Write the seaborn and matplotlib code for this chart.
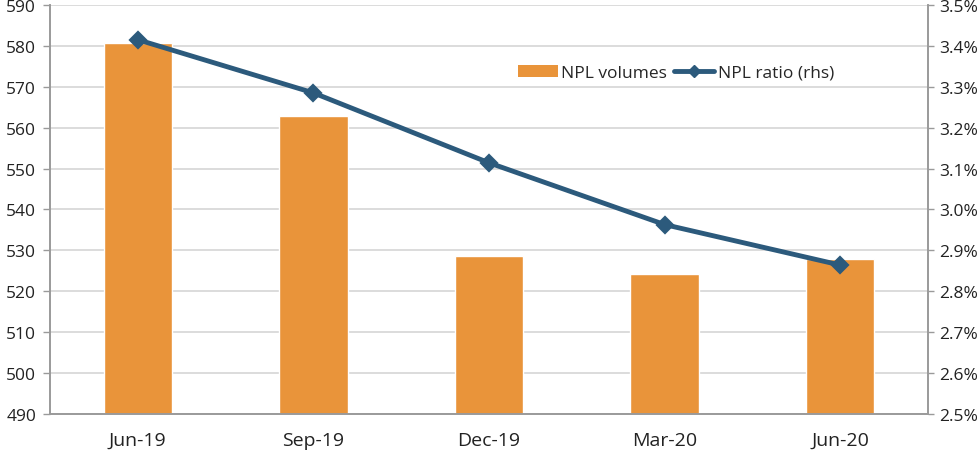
import matplotlib
matplotlib.use("Agg")
import matplotlib.pyplot as plt
import seaborn as sns
import pandas as pd
from matplotlib.lines import Line2D
from matplotlib.patches import Patch
from matplotlib.ticker import FuncFormatter, MultipleLocator

# Data
quarters = ["Jun-19", "Sep-19", "Dec-19", "Mar-20", "Jun-20"]
npl_volumes = [580.6, 562.9, 528.7, 524.3, 527.8]
npl_ratio = [3.415, 3.285, 3.114, 2.963, 2.864]  # percent, right axis

bar_color = "#E9943A"
line_color = "#2C5A7C"
grid_color = "#D6D6D6"
spine_color = "#9A9A9A"

df = pd.DataFrame({"quarter": quarters, "volume": npl_volumes, "ratio": npl_ratio})

sns.set_style("white")
plt.rcParams["font.family"] = ["Open Sans", "DejaVu Sans"]

fig = plt.figure(figsize=(9.8, 4.56), dpi=100)
ax = fig.add_axes([0.051, 0.09, 0.896, 0.897])

sns.barplot(data=df, x="quarter", y="volume", color=bar_color, width=0.39,
            saturation=1, ax=ax, zorder=2)
ax.set_ylim(490, 590)
ax.yaxis.set_major_locator(MultipleLocator(10))
ax.set_xlim(-0.5, 4.5)
ax.grid(axis="y", color=grid_color, linewidth=1.2, zorder=0)
ax.set_axisbelow(True)
ax.set_xlabel("")
ax.set_ylabel("")

ax2 = ax.twinx()
sns.pointplot(data=df, x="quarter", y="ratio", color=line_color, markers="D",
              markersize=7, linewidth=3.5, ax=ax2)
ax2.set_ylim(2.5, 3.5)
ax2.yaxis.set_major_locator(MultipleLocator(0.1))
ax2.yaxis.set_major_formatter(FuncFormatter(lambda v, p: f"{v:.1f}%"))
ax2.set_xlim(-0.5, 4.5)
ax2.set_ylabel("")

# category labels centred, ticks at slot boundaries
ax.set_xticks(range(len(quarters)))
ax.set_xticklabels(quarters)
ax.set_xticks([i + 0.5 for i in range(len(quarters) - 1)], minor=True)
ax.tick_params(axis="x", which="major", length=0, pad=12, labelsize=14, colors="#222222")
ax.tick_params(axis="x", which="minor", length=5, width=1, color=spine_color, direction="out")
ax.tick_params(axis="y", length=5, width=1, color=spine_color, labelsize=12.5, colors="#222222", pad=5)
ax2.tick_params(axis="y", length=4, width=1, color=spine_color, labelsize=12.5, colors="#222222", pad=4)

for a in (ax, ax2):
    a.spines["top"].set_visible(False)
    for s in ("left", "right", "bottom"):
        a.spines[s].set_color(spine_color)
        a.spines[s].set_linewidth(1.2)

handles = [
    Patch(facecolor=bar_color, edgecolor="none"),
    Line2D([0], [0], color=line_color, linewidth=3.5, marker="D", markersize=6),
]
ax2.legend(handles, ["NPL volumes", "NPL ratio (rhs)"], loc="center left",
           bbox_to_anchor=(0.525, 0.834), ncol=2, frameon=False, fontsize=12.5,
           handlelength=2.3, handletextpad=0.2, columnspacing=0.4,
           borderaxespad=0)

fig.savefig("out.png", dpi=100)
